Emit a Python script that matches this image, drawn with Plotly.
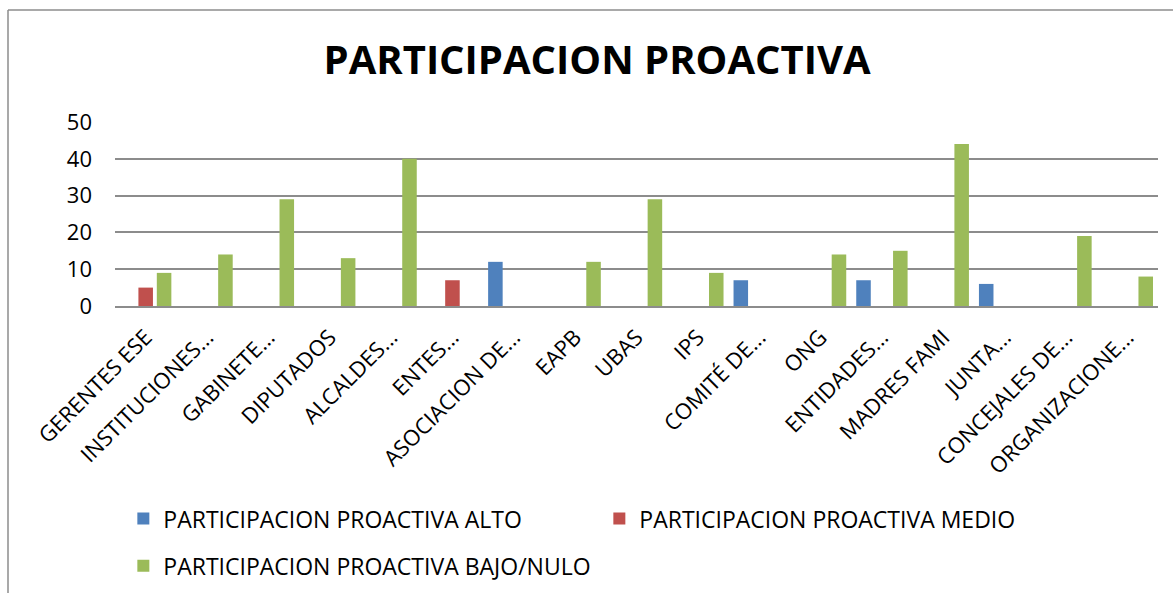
import plotly.graph_objects as go

categories = ["GERENTES ESE", "INSTITUCIONES...", "GABINETE...", "DIPUTADOS", "ALCALDES...",
              "ENTES...", "ASOCIACION DE...", "EAPB", "UBAS", "IPS", "COMITÉ DE...", "ONG",
              "ENTIDADES...", "MADRES FAMI", "JUNTA...", "CONCEJALES DE...", "ORGANIZACIONE..."]
alto = [0, 0, 0, 0, 0, 0, 12, 0, 0, 0, 7, 0, 7, 0, 6, 0, 0]
medio = [5, 0, 0, 0, 0, 7, 0, 0, 0, 0, 0, 0, 0, 0, 0, 0, 0]
bajo = [9, 14, 29, 13, 40, 0, 0, 12, 29, 9, 0, 14, 15, 44, 0, 19, 8]
series_names = ["PARTICIPACION PROACTIVA ALTO", "PARTICIPACION PROACTIVA MEDIO",
                "PARTICIPACION PROACTIVA BAJO/NULO"]
colors = ["#4F81BD", "#C0504D", "#9BBB59"]
title_text = "PARTICIPACION PROACTIVA"

FONT = "'Open Sans', 'Noto Sans', sans-serif"

fig = go.Figure()
for name, vals, col, lg in zip(series_names, [alto, medio, bajo], colors, ["legend", "legend", "legend2"]):
    fig.add_trace(go.Bar(x=categories, y=vals, name=name, marker_color=col,
                         marker_line_width=0, legend=lg))

fig.update_layout(
    width=1173, height=593,
    margin=dict(l=115, r=15, t=122, b=287, autoexpand=False),
    paper_bgcolor="white", plot_bgcolor="white",
    font=dict(family=FONT, color="black"),
    title=dict(text="<b>" + title_text + "</b>", x=0.509, xanchor="center",
               y=1 - 60 / 593, yanchor="middle",
               font=dict(family=FONT, size=40, color="black")),
    barmode="group", bargap=0.10, bargroupgap=0.21,
    showlegend=True,
    legend=dict(orientation="h", x=0.008, xanchor="left", y=-(517 - 305.5) / 183, yanchor="middle",
                font=dict(family=FONT, size=23, color="black"), entrywidth=431,
                bgcolor="rgba(0,0,0,0)"),
    legend2=dict(orientation="h", x=0.008, xanchor="left", y=-(564 - 305.5) / 183, yanchor="middle",
                 font=dict(family=FONT, size=23, color="black"),
                 bgcolor="rgba(0,0,0,0)"),
    shapes=[
        dict(type="line", xref="paper", yref="paper",
             x0=(8 - 115) / 1043, x1=(1173 - 115) / 1043, y0=(305.5 - 11) / 183, y1=(305.5 - 11) / 183,
             line=dict(color="#8C8C8C", width=1.5)),
        dict(type="line", xref="paper", yref="paper",
             x0=(8 - 115) / 1043, x1=(8 - 115) / 1043, y0=(305.5 - 11) / 183, y1=(305.5 - 593) / 183,
             line=dict(color="#8C8C8C", width=1.5)),
    ],
)
fig.update_yaxes(range=[0, 50], dtick=10, showgrid=True, gridcolor="#8C8C8C", gridwidth=1.5,
                 zeroline=False, showline=False, ticks="", ticklabelstandoff=22,
                 tickfont=dict(family=FONT, size=22, color="black"))
fig.update_xaxes(showline=True, linecolor="#8C8C8C", linewidth=1.5, ticks="",
                 tickangle=-45, tickfont=dict(family=FONT, size=22, color="black"),
                 ticklabelstandoff=8)

fig.write_html("out.html", config={"displayModeBar": False},
               post_script="document.body.style.margin='0px';document.body.style.padding='0px';")
